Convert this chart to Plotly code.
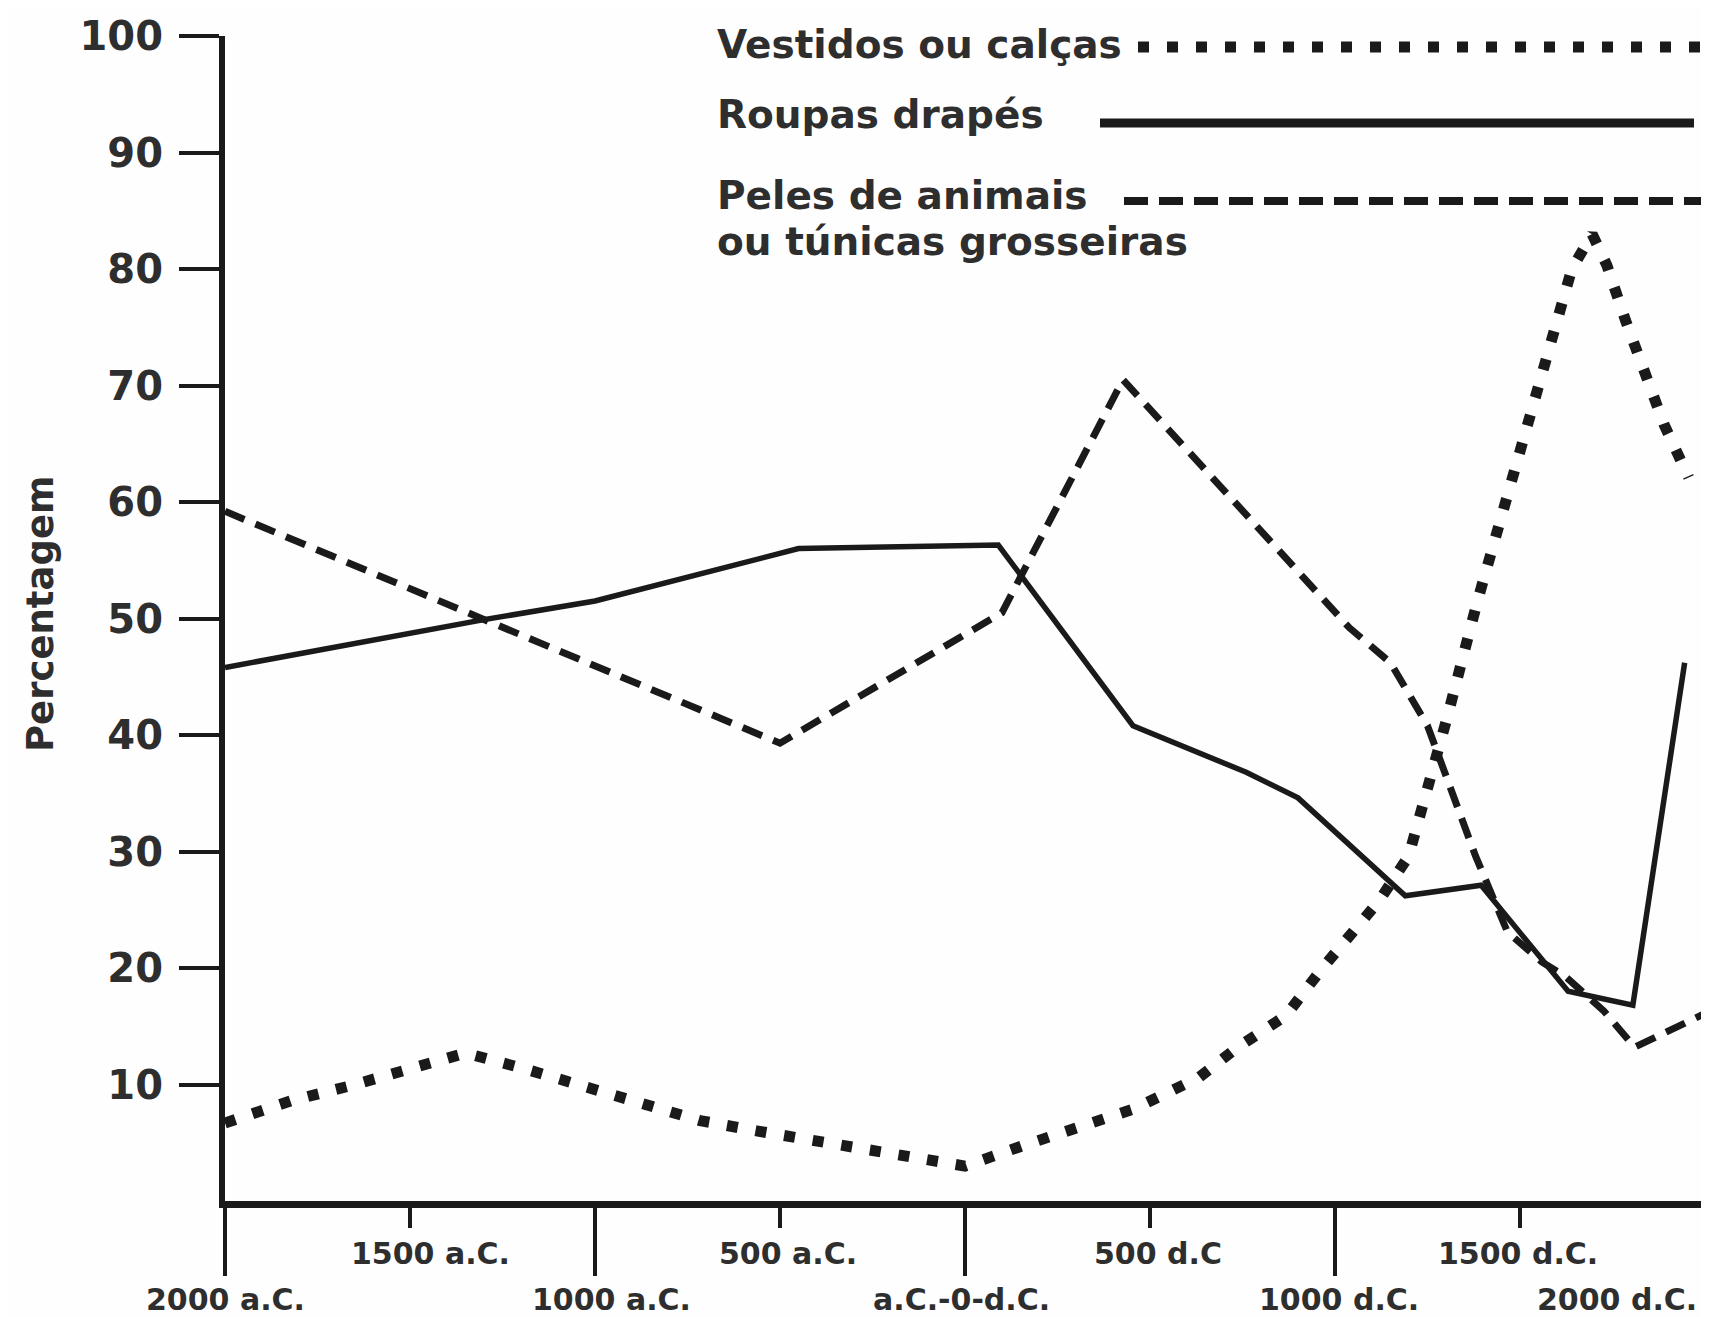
import plotly.graph_objects as go

# ---------------- data ----------------
drapes_years = [-2000, -1300, -1000, -450, 90, 454, 760, 900, 1190, 1395, 1630, 1805, 1945]
drapes_vals = [45.8, 49.9, 51.5, 56.0, 56.3, 40.8, 36.8, 34.6, 26.2, 27.1, 18.0, 16.8, 46.2]

peles_years = [-2000, -500, 100, 427, 1039, 1150, 1250, 1300, 1380, 1466, 1560, 1622, 1727, 1810, 1967, 2000]
peles_vals = [59.2, 39.3, 50.5, 70.5, 49.2, 46.2, 40.8, 36.4, 29.6, 23.1, 20.5, 19.3, 16.3, 13.2, 15.6, 16.1]

vest_years = [-2000, -1822, -1660, -1504, -1350, -1196, -1032, -878, -716, -560, -398, -236, -80, 0,
              152, 314, 456, 632, 737, 867, 961, 1067, 1120, 1199, 1245, 1304, 1385, 1468, 1552,
              1640, 1695, 1735, 1785, 1833, 1890, 1956]
vest_vals = [6.7, 8.6, 9.9, 11.4, 12.7, 11.4, 9.8, 8.4, 6.9, 6.0, 5.2, 4.3, 3.4, 3.0,
             4.7, 6.3, 7.9, 10.6, 13.2, 15.9, 19.8, 23.8, 25.8, 29.6, 34.5, 41.6, 51.5, 61.0, 70.4,
             80.0, 83.0, 80.3, 75.6, 71.2, 66.6, 62.1]

y_ticks = [10, 20, 30, 40, 50, 60, 70, 80, 90, 100]
x_ticks_long = [-2000, -1000, 0, 1000, 2000]
x_labels_long = ["2000 a.C.", "1000 a.C.", "a.C.-0-d.C.", "1000 d.C.", "2000 d.C."]
x_ticks_short = [-1500, -500, 500, 1500]
x_labels_short = ["1500 a.C.", "500 a.C.", "500 d.C", "1500 d.C."]

legend_lines = ["Vestidos ou calças", "Roupas drapés", "Peles de animais", "ou túnicas grosseiras"]

# ---------------- style / layout ----------------
INK = "#1a1a1a"
TXT = "#2e2e2e"
FONT = "DejaVu Sans"
DOT = "11px,18px"
DASH = "21px,12px"

OFF = 8                       # page body margin of the html page
W, H = 1709 - OFF, 1317 - OFF
PL, PR, PT, PB = 225, 1705, 36, 1201     # plot area in page pixels
L, R, T, B = PL - OFF, (W + OFF) - PR, PT - OFF, (H + OFF) - PB
plot_w = PR - PL
plot_h = PB - PT


def px(xp):
    return (xp - PL) / plot_w


def py(yp):
    return (PB - yp) / plot_h


fig = go.Figure()
fig.add_trace(go.Scatter(x=peles_years, y=peles_vals, mode="lines",
                         line=dict(color=INK, width=7, dash=DASH), showlegend=False))
fig.add_trace(go.Scatter(x=drapes_years, y=drapes_vals, mode="lines",
                         line=dict(color=INK, width=5.5), showlegend=False))
fig.add_trace(go.Scatter(x=vest_years, y=vest_vals, mode="lines", xaxis="x2",
                         line=dict(color=INK, width=11, dash=DOT), showlegend=False))

fig.update_layout(
    width=W, height=H,
    margin=dict(l=L, r=R, t=T, b=B, pad=0),
    paper_bgcolor="#fefefe", plot_bgcolor="#fefefe",
    showlegend=False,
    xaxis=dict(range=[-2000, 2000], showgrid=False, zeroline=False,
               showline=True, linewidth=7, linecolor=INK,
               ticks="outside", tickvals=x_ticks_long, ticklen=68, tickwidth=4,
               tickcolor=INK, showticklabels=False),
    xaxis2=dict(range=[-2000, 2000], overlaying="x", anchor="y", side="bottom",
                showgrid=False, zeroline=False, showline=False,
                ticks="outside", tickvals=x_ticks_short, ticklen=26, tickwidth=4,
                tickcolor=INK, showticklabels=False),
    yaxis=dict(range=[0, 100], showgrid=False, zeroline=False,
               showline=True, linewidth=6, linecolor=INK,
               ticks="outside", tickvals=y_ticks, ticklen=40, tickwidth=3.5,
               tickcolor=INK, ticklabelstandoff=8,
               tickfont=dict(family=FONT, size=40, color=TXT, weight="bold")),
)

annotations = []
xfont = dict(family=FONT, size=30, color=TXT, weight="bold")
short_shift = [20, 8, 8, -2]
for xv, lab, sh in zip(x_ticks_short, x_labels_short, short_shift):
    annotations.append(dict(x=xv, y=py(1253), xref="x", yref="paper", text=lab,
                            showarrow=False, xanchor="center", yanchor="middle", xshift=sh,
                            font=xfont))
long_shift = [0, 16, -4, 4, -6]
for i, (xv, lab, sh) in enumerate(zip(x_ticks_long, x_labels_long, long_shift)):
    last = i == len(x_ticks_long) - 1
    annotations.append(dict(x=xv, y=py(1300), xref="x", yref="paper", text=lab,
                            showarrow=False, xanchor="right" if last else "center",
                            yanchor="middle", xshift=sh, font=xfont))
# y title
annotations.append(dict(x=px(40), y=py(614), xref="paper", yref="paper",
                        text="Percentagem", textangle=-90, showarrow=False,
                        xanchor="center", yanchor="middle",
                        font=dict(family=FONT, size=37, color=TXT, weight="bold")))
# legend texts
leg_y = [44, 115, 195, 242]
for name, yy in zip(legend_lines, leg_y):
    annotations.append(dict(x=px(715), y=py(yy), xref="paper", yref="paper", text=name,
                            showarrow=False, xanchor="left", yanchor="middle", align="left",
                            font=dict(family=FONT, size=39, color=TXT, weight="bold")))
fig.update_layout(annotations=annotations)

# legend line samples
shapes = [
    dict(type="line", xref="paper", yref="paper", x0=px(1138), x1=px(1709), y0=py(47), y1=py(47),
         line=dict(color=INK, width=11, dash=DOT)),
    dict(type="line", xref="paper", yref="paper", x0=px(1100), x1=px(1694), y0=py(123), y1=py(123),
         line=dict(color=INK, width=9)),
    dict(type="line", xref="paper", yref="paper", x0=px(1124), x1=px(1709), y0=py(201), y1=py(201),
         line=dict(color=INK, width=8, dash="24px,11px")),
]
fig.update_layout(shapes=shapes)

fig.write_html("out.html")
